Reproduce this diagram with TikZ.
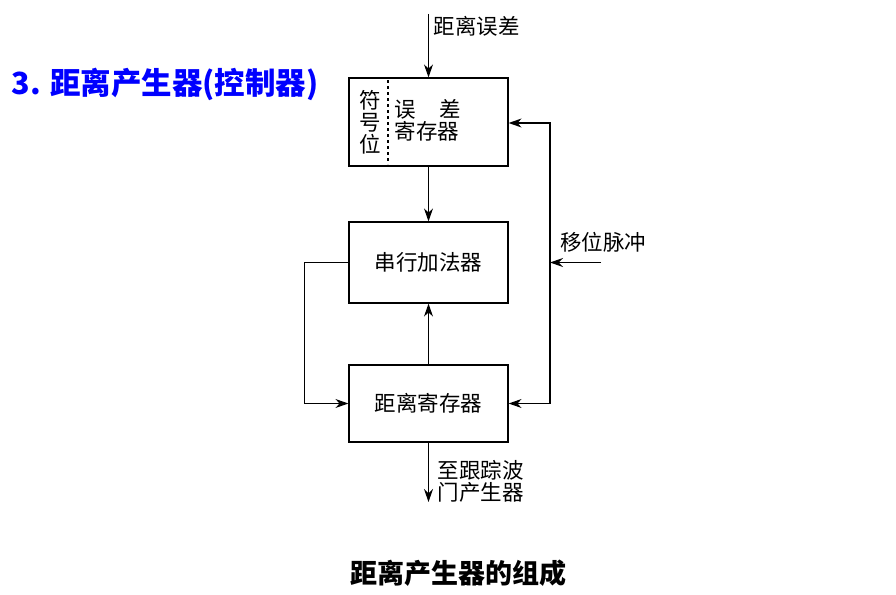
\documentclass[tikz,border=0pt]{standalone}
\usepackage{fontspec}
\newfontfamily\cjk{Noto Sans CJK SC}
\usetikzlibrary{arrows.meta}
\tikzset{
  blk/.style={draw,line width=1.2pt,minimum width=159pt,inner sep=0pt},
  lbl/.style={font=\cjk\fontsize{21.5}{26}\selectfont},
  arr/.style={line width=1.2pt,-{Stealth[length=13pt,width=9pt]}}
}
\begin{document}
\begin{tikzpicture}[x=1pt,y=-1pt]
  \useasboundingbox (0,0) rectangle (896,594);
  % blocks
  \node [blk,minimum height=88pt] (err) at (428.5,122) {};
  \node [blk,minimum height=81pt] (add) at (428.5,262.5) {};
  \node [blk,minimum height=77pt] (reg) at (428.5,403.5) {};
  \draw [line width=1.2pt,dashed] (388,80) -- (388,164);
  \node [lbl,align=center] (sign) at (370,122) {符\\[-4pt]号\\[-4pt]位};
  \node [lbl,align=left] (errtxt) at (428,120) {误\hspace{1.1em}差\\[-4pt]寄存器};
  \node [lbl] (addtxt) at (add) {串行加法器};
  \node [lbl] (regtxt) at (reg) {距离寄存器};
  % signals
  \coordinate (in) at (428.5,14);
  \coordinate (out) at (428.5,502);
  \coordinate (pulse) at (601,262.5);
  \coordinate (bus) at (550,262.5);
  \node [lbl,anchor=west] (inlbl) at (430,26) {距离误差};
  \node [lbl,anchor=south] (pulselbl) at (603,256) {移位脉冲};
  \node [lbl,anchor=west,align=left] (outlbl) at (434,481) {至跟踪波\\[-4pt]门产生器};
  % connectors
  \draw [arr] (in) -- (err.north);
  \draw [arr] (err.south) -- (add.north);
  \draw [arr] (reg.north) -- (add.south);
  \draw [arr] (reg.south) -- (out);
  \draw [arr] (add.west) -- ++(-44,0) |- (reg.west);
  \draw [arr] (pulse) -- (bus);
  \draw [arr] (bus) |- (err.east |- 0,123);
  \draw [arr] (bus) |- (reg.east);
  % titles
  \node [anchor=west,text=blue,font=\cjk\bfseries\fontsize{30.5}{34}\selectfont] (title) at (8,84) {3. 距离产生器(控制器)};
  \node [font=\cjk\bfseries\fontsize{27}{31}\selectfont] (caption) at (458,573) {距离产生器的组成};
\end{tikzpicture}
\end{document}
